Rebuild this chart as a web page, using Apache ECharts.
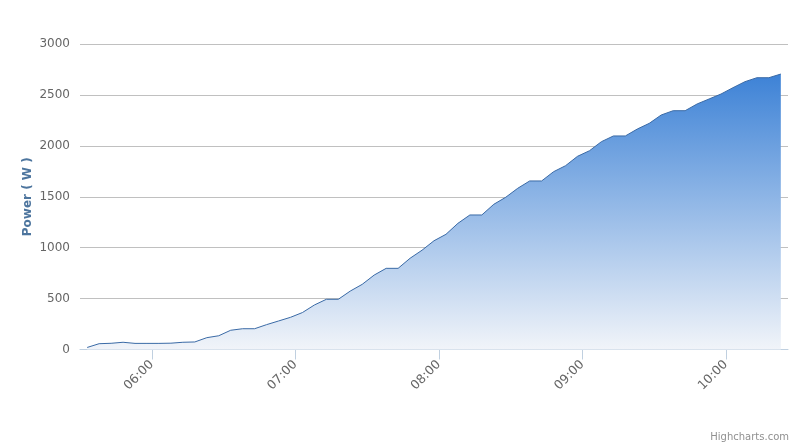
<!DOCTYPE html>
<html>
<head>
<meta charset="utf-8">
<script src="https://cdn.jsdelivr.net/npm/echarts@6/dist/echarts.min.js"></script>
<style>
html,body{margin:0;padding:0;background:#fff;}
#chart{width:800px;height:446px;}
</style>
</head>
<body>
<div id="chart"></div>
<script>
// Time of each reading (HH:MM)
var times = ["05:33","05:38","05:43","05:48","05:53","05:58","06:03","06:08","06:13","06:18",
  "06:23","06:28","06:33","06:38","06:43","06:48","06:53","06:58","07:03","07:08",
  "07:13","07:18","07:23","07:28","07:33","07:38","07:43","07:48","07:53","07:58",
  "08:03","08:08","08:13","08:18","08:23","08:28","08:33","08:38","08:43","08:48",
  "08:53","08:58","09:03","09:08","09:13","09:18","09:23","09:28","09:33","09:38",
  "09:43","09:48","09:53","09:58","10:03","10:08","10:13","10:18","10:23"];
// Power (W)
var power = [20,57,61,71,60,60,60,62,71,74,
  116,135,189,204,204,244,280,316,363,437,
  493,493,574,640,731,797,797,896,975,1068,
  1131,1239,1321,1321,1426,1495,1583,1655,1655,1746,
  1805,1897,1952,2041,2097,2097,2165,2221,2303,2345,
  2345,2411,2460,2509,2571,2630,2669,2669,2705];
var hourTicks = ["06:00","07:00","08:00","09:00","10:00"];
var yTicks = [0,500,1000,1500,2000,2500,3000];
var axisStart = "05:30", axisEnd = "10:26";

function toMin(s){var p=s.split(":");return (+p[0])*60+(+p[1]);}
function fmt(m){m=Math.round(m);var h=Math.floor(m/60),mm=m%60;return (h<10?"0":"")+h+":"+(mm<10?"0":"")+mm;}

var seriesData = times.map(function(t,i){return [toMin(t), power[i]];});
var hourVals = hourTicks.map(toMin);

var chart = echarts.init(document.getElementById('chart'), null, {renderer:'canvas'});
var font = '"DejaVu Sans", "Lucida Grande", Verdana, Arial, sans-serif';
chart.setOption({
  animation:false,
  backgroundColor:'#ffffff',
  grid:{left:80,right:12,top:44,bottom:96.5,containLabel:false},
  xAxis:{
    type:'value',
    min:toMin(axisStart), max:toMin(axisEnd),
    axisLine:{show:true,lineStyle:{color:'#c0d0e0',width:1}},
    axisTick:{show:true,length:10,customValues:hourVals,lineStyle:{color:'#c0d0e0'}},
    axisLabel:{customValues:hourVals,rotate:45,margin:13,color:'#666666',fontSize:12.5,fontFamily:font,
      formatter:function(v){return fmt(v);}},
    splitLine:{show:false}
  },
  yAxis:{
    type:'value',min:yTicks[0],max:yTicks[yTicks.length-1],interval:500,
    name:'Power ( W )',nameLocation:'middle',nameGap:46,nameRotate:90,nameMoveOverlap:false,
    nameTextStyle:{color:'#4d759e',fontWeight:'bold',fontSize:12,fontFamily:font},
    axisLine:{show:false},axisTick:{show:false},
    axisLabel:{color:'#666666',fontSize:12,fontFamily:font,margin:10,
      formatter:function(v){return String(v);}},
    splitLine:{show:true,lineStyle:{color:'#c0c0c0',width:1}}
  },
  series:[{
    type:'line',
    data:seriesData,
    showSymbol:false,
    symbol:'none',
    lineStyle:{color:'#3a6aa6',width:1},
    areaStyle:{opacity:1,color:new echarts.graphic.LinearGradient(0,0,0,1,[
      {offset:0,color:'#3d82d6'},
      {offset:1,color:'#f1f4f9'}
    ])}
  }],
  graphic:[{
    type:'text',right:11,bottom:4,
    style:{text:'Highcharts.com',fill:'#909090',fontSize:10,fontFamily:font}
  }]
});
</script>
</body>
</html>
